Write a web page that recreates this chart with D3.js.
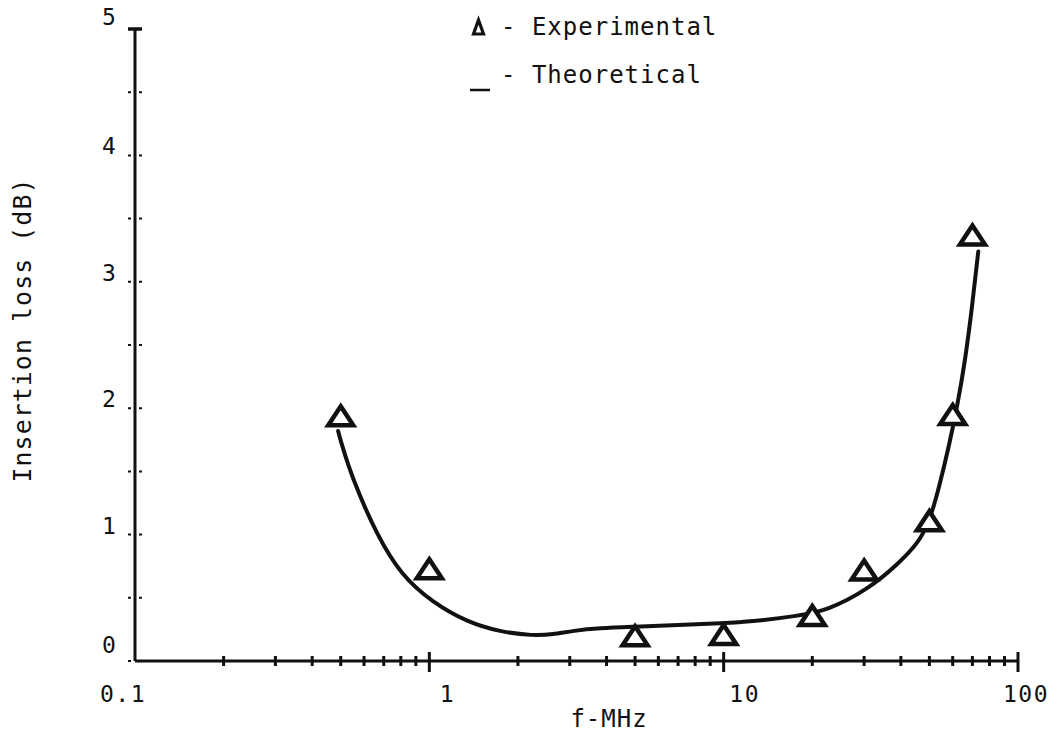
<!DOCTYPE html>
<html>
<head>
<meta charset="utf-8">
<script src="https://cdn.jsdelivr.net/npm/d3@7"></script>
<style>
  html, body { margin: 0; padding: 0; background: #fff; }
  svg { display: block; }
  text { font-family: "DejaVu Sans Mono", "Liberation Mono", monospace; fill: #111; }
</style>
</head>
<body>
<svg id="chart" width="1058" height="734"></svg>
<script>
// ---- data ----
const xMajorTicks = [0.1, 1, 10, 100];
const xTickLabels = ["0.1", "1", "10", "100"];
const yTicks = [0, 1, 2, 3, 4, 5];
const yTickLabels = ["0", "1", "2", "3", "4", "5"];
const yMinorTicks = [0.5, 1.5, 2.5, 3.5, 4.5];

const expFreq = [0.5, 1.0, 5, 10, 20, 30, 50, 60, 70];
const expLoss = [1.94, 0.73, 0.20, 0.21, 0.36, 0.72, 1.11, 1.95, 3.37];

const theoFreq = [0.49, 0.50, 0.53, 0.57, 0.66, 0.80, 1.03, 1.34, 1.74, 2.25, 2.63, 3.08, 3.8, 4.9, 7, 10, 12.3, 17.7, 22.5, 30.7, 39.7, 46, 50, 54, 58, 62, 66, 70, 73.1, 73.3];
const theoLoss = [1.82, 1.74, 1.55, 1.35, 1.01, 0.68, 0.46, 0.31, 0.23, 0.20, 0.21, 0.24, 0.26, 0.27, 0.285, 0.30, 0.31, 0.355, 0.40, 0.56, 0.78, 0.94, 1.10, 1.38, 1.68, 2.00, 2.36, 2.82, 3.22, 3.24];

// ---- layout ----
const svg = d3.select("#chart");
const ink = "#111";
const x = d3.scaleLog().domain([0.1, 100]).range([135, 1018]);
const y = d3.scaleLinear().domain([0, 5]).range([661, 29]);

// minor x ticks (2..9 per decade)
const xMinor = [];
[0.1, 1, 10].forEach(d => { for (let k = 2; k <= 9; k++) xMinor.push(+(d * k).toPrecision(3)); });

const axes = svg.append("g");
axes.append("line").attr("x1", x(0.1)).attr("x2", x(100)).attr("y1", y(0)).attr("y2", y(0))
  .attr("stroke", ink).attr("stroke-width", 3);
axes.append("line").attr("x1", x(0.1)).attr("x2", x(0.1)).attr("y1", y(0)).attr("y2", y(5))
  .attr("stroke", ink).attr("stroke-width", 3);
axes.append("line").attr("x1", x(0.1) - 7).attr("x2", x(0.1) + 7).attr("y1", y(5)).attr("y2", y(5))
  .attr("stroke", ink).attr("stroke-width", 3.5);

axes.selectAll(".xminor").data(xMinor).join("line")
  .attr("x1", d => x(d)).attr("x2", d => x(d)).attr("y1", y(0) - 5).attr("y2", y(0) + 5)
  .attr("stroke", ink).attr("stroke-width", 3);
axes.selectAll(".xmajor").data(xMajorTicks.slice(1)).join("line")
  .attr("x1", d => x(d)).attr("x2", d => x(d)).attr("y1", y(0) - 9).attr("y2", y(0) + 11)
  .attr("stroke", ink).attr("stroke-width", 3);

axes.selectAll(".ytick").data(yTicks.slice(0, 5).concat(yMinorTicks)).join("line")
  .attr("x1", x(0.1) - 7).attr("x2", x(0.1) + 7).attr("y1", d => y(d)).attr("y2", d => y(d))
  .attr("stroke", ink).attr("stroke-width", 2).attr("stroke-dasharray", "3,8,3");

const xLabelShift = [-12, 18, 21, 8];
axes.selectAll(".xlab").data(xMajorTicks).join("text")
  .attr("x", (d, i) => x(d) + xLabelShift[i]).attr("y", 702)
  .attr("text-anchor", "middle").attr("font-size", 23).attr("letter-spacing", 1.5)
  .text((d, i) => xTickLabels[i]);

axes.selectAll(".ylab").data(yTicks).join("text")
  .attr("x", 109).attr("y", d => y(d) + (d === 0 ? -8 : d === 5 ? -4 : -1))
  .attr("text-anchor", "middle").attr("font-size", 23)
  .text((d, i) => yTickLabels[i]);

svg.append("text").attr("x", 609).attr("y", 727).attr("text-anchor", "middle")
  .attr("font-size", 24).attr("letter-spacing", 1).text("f-MHz");
svg.append("text").attr("transform", "translate(31,330) rotate(-90)").attr("text-anchor", "middle")
  .attr("font-size", 25).attr("letter-spacing", 1).text("Insertion loss (dB)");

// theoretical curve
const theo = theoFreq.map((f, i) => [f, theoLoss[i]]);
const line = d3.line().x(d => x(d[0])).y(d => y(d[1])).curve(d3.curveBasis);
svg.append("path").datum(theo).attr("d", line)
  .attr("fill", "none").attr("stroke", ink).attr("stroke-width", 4).attr("stroke-linecap", "round");

// experimental triangles
const tri = (w, h) => `M0,${-h / 2}L${w / 2},${h / 2}L${-w / 2},${h / 2}Z`;
const exp = expFreq.map((f, i) => [f, expLoss[i]]);
svg.selectAll(".tri").data(exp).join("path")
  .attr("transform", d => `translate(${x(d[0])},${y(d[1])})`)
  .attr("d", tri(25, 19))
  .attr("fill", "#fff").attr("stroke", ink).attr("stroke-width", 4.5).attr("stroke-linejoin", "miter");

// legend
const lg = svg.append("g");
lg.append("path").attr("transform", "translate(478.5,27)").attr("d", tri(10, 14))
  .attr("fill", "#fff").attr("stroke", ink).attr("stroke-width", 3.2);
lg.append("text").attr("x", 501).attr("y", 35).attr("font-size", 24).attr("letter-spacing", 1)
  .text("- Experimental");
lg.append("line").attr("x1", 470).attr("x2", 490).attr("y1", 90).attr("y2", 90)
  .attr("stroke", ink).attr("stroke-width", 2.5);
lg.append("text").attr("x", 501).attr("y", 83).attr("font-size", 24).attr("letter-spacing", 1)
  .text("- Theoretical");
</script>
</body>
</html>
